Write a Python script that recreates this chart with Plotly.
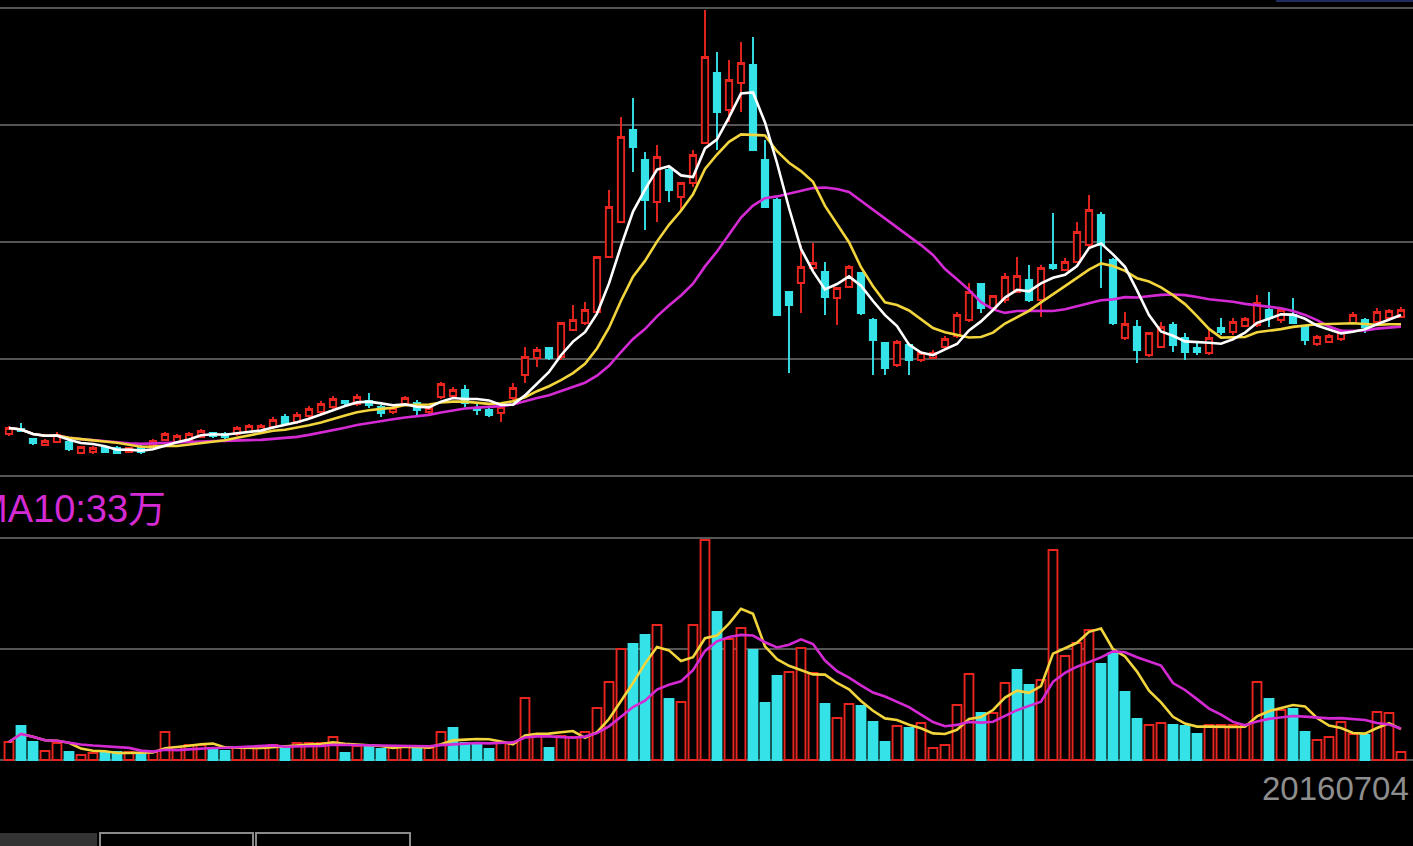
import plotly.graph_objects as go
import pandas as pd

# ---------------- data ----------------
opens = [5.66, 5.71, 5.61, 5.55, 5.58, 5.58, 5.47, 5.48, 5.52, 5.52,
         5.48, 5.53, 5.55, 5.60, 5.58, 5.60, 5.63, 5.67, 5.66, 5.66,
         5.68, 5.69, 5.73, 5.83, 5.78, 5.84, 5.88, 5.93, 5.99, 5.96,
         5.99, 5.93, 5.88, 5.96, 5.97, 5.88, 6.03, 6.04, 6.10, 5.92,
         5.90, 5.87, 6.02, 6.25, 6.42, 6.52, 6.43, 6.70, 6.77, 6.88,
         7.43, 7.78, 8.70, 8.40, 7.98, 8.30, 8.03, 8.17, 8.57, 9.27,
         8.90, 9.17, 9.35, 8.40, 8.00, 7.08, 7.17, 7.32, 7.28, 7.02,
         7.13, 7.27, 6.80, 6.57, 6.35, 6.55, 6.40, 6.42, 6.53, 6.64,
         6.80, 7.16, 6.92, 7.00, 7.08, 7.20, 7.00, 7.35, 7.30, 7.38,
         7.55, 7.85, 7.40, 6.62, 6.73, 6.45, 6.53, 6.75, 6.62, 6.52,
         6.47, 6.72, 6.68, 6.74, 6.75, 6.90, 6.80, 6.85, 6.73, 6.56,
         6.58, 6.61, 6.77, 6.80, 6.78, 6.82, 6.83]
highs = [5.74, 5.77, 5.62, 5.61, 5.68, 5.59, 5.54, 5.54, 5.53, 5.54,
         5.53, 5.55, 5.61, 5.68, 5.66, 5.68, 5.71, 5.68, 5.68, 5.74,
         5.76, 5.76, 5.83, 5.86, 5.88, 5.94, 5.99, 6.04, 6.00, 6.06,
         6.07, 5.95, 5.94, 6.04, 6.00, 5.94, 6.18, 6.13, 6.15, 5.97,
         5.92, 5.97, 6.17, 6.53, 6.53, 6.53, 6.78, 6.95, 6.98, 7.44,
         8.10, 8.83, 9.02, 8.48, 8.55, 8.33, 8.18, 8.50, 9.90, 9.48,
         9.40, 9.58, 9.63, 8.60, 8.02, 7.09, 7.55, 7.57, 7.38, 7.13,
         7.35, 7.28, 6.82, 6.58, 6.60, 6.57, 6.49, 6.50, 6.64, 6.88,
         7.17, 7.17, 7.05, 7.27, 7.43, 7.35, 7.35, 7.87, 7.42, 7.78,
         8.05, 7.88, 7.42, 6.88, 6.80, 6.68, 6.78, 6.78, 6.67, 6.57,
         6.70, 6.82, 6.82, 6.83, 7.05, 7.08, 6.92, 7.02, 6.75, 6.65,
         6.66, 6.71, 6.88, 6.82, 6.92, 6.91, 6.93]
lows = [5.64, 5.68, 5.55, 5.54, 5.57, 5.49, 5.46, 5.46, 5.47, 5.46,
        5.47, 5.46, 5.54, 5.59, 5.57, 5.59, 5.62, 5.62, 5.61, 5.64,
        5.67, 5.67, 5.71, 5.74, 5.76, 5.82, 5.86, 5.91, 5.94, 5.94,
        5.92, 5.83, 5.86, 5.94, 5.85, 5.86, 6.01, 6.02, 5.93, 5.85,
        5.83, 5.78, 6.00, 6.17, 6.33, 6.40, 6.40, 6.69, 6.75, 6.87,
        7.42, 7.77, 8.28, 7.70, 7.78, 7.98, 7.90, 8.13, 8.56, 8.50,
        8.78, 8.88, 8.49, 7.93, 6.85, 6.27, 6.87, 7.30, 6.85, 6.75,
        7.12, 6.85, 6.25, 6.25, 6.33, 6.25, 6.38, 6.41, 6.51, 6.62,
        6.78, 6.87, 6.90, 6.97, 7.07, 6.98, 6.83, 7.30, 7.29, 7.37,
        7.53, 7.12, 6.75, 6.60, 6.37, 6.43, 6.52, 6.48, 6.40, 6.45,
        6.45, 6.65, 6.65, 6.73, 6.73, 6.73, 6.77, 6.76, 6.55, 6.54,
        6.57, 6.59, 6.76, 6.67, 6.77, 6.81, 6.82]
closes = [5.72, 5.69, 5.57, 5.59, 5.65, 5.51, 5.53, 5.52, 5.48, 5.47,
          5.52, 5.48, 5.59, 5.66, 5.64, 5.66, 5.69, 5.64, 5.63, 5.72,
          5.74, 5.74, 5.80, 5.76, 5.85, 5.91, 5.96, 6.01, 5.97, 6.03,
          5.95, 5.87, 5.92, 6.02, 5.90, 5.92, 6.16, 6.10, 5.97, 5.90,
          5.85, 5.93, 6.12, 6.43, 6.50, 6.42, 6.77, 6.80, 6.90, 7.43,
          7.93, 8.63, 8.53, 8.00, 8.43, 8.10, 8.17, 8.45, 9.43, 8.88,
          9.20, 9.37, 8.50, 7.93, 6.85, 6.95, 7.33, 7.37, 7.03, 7.12,
          7.33, 6.87, 6.60, 6.32, 6.58, 6.40, 6.47, 6.47, 6.61, 6.85,
          7.08, 6.92, 7.04, 7.23, 7.24, 7.00, 7.32, 7.32, 7.38, 7.68,
          7.90, 7.55, 6.77, 6.76, 6.50, 6.67, 6.73, 6.55, 6.48, 6.48,
          6.62, 6.68, 6.78, 6.81, 6.97, 6.82, 6.90, 6.77, 6.60, 6.63,
          6.64, 6.69, 6.85, 6.73, 6.88, 6.89, 6.90]
# volume in 万 (10k shares)
volumes = [18, 34, 18, 9, 17, 8, 5, 7, 7, 8,
           8, 7, 8, 28, 13, 15, 15, 11, 9, 13,
           13, 14, 15, 14, 17, 17, 17, 23, 7, 14,
           15, 11, 13, 13, 13, 12, 28, 32, 17, 16,
           11, 17, 17, 62, 24, 12, 24, 23, 28, 52,
           78, 111, 116, 125, 135, 61, 58, 135, 220, 148,
           121, 132, 110, 57, 84, 88, 112, 87, 56, 42,
           56, 54, 38, 18, 34, 32, 37, 12, 15, 55,
           86, 47, 47, 77, 90, 75, 80, 210, 104, 117,
           130, 96, 107, 68, 41, 35, 37, 35, 34, 26,
           35, 35, 35, 35, 78, 61, 50, 51, 28, 20,
           23, 38, 26, 25, 48, 47, 8]
# 1 = up day (red), 0 = down day (cyan), as coloured on the volume bars
vol_up = [1, 0, 0, 1, 1, 0, 1, 1, 0, 0,
          1, 0, 1, 1, 1, 1, 1, 0, 0, 1,
          1, 1, 1, 0, 1, 1, 1, 1, 0, 1,
          0, 0, 1, 1, 0, 1, 1, 0, 0, 0,
          0, 1, 1, 1, 1, 0, 1, 1, 1, 1,
          1, 1, 0, 0, 1, 0, 1, 1, 1, 0,
          1, 1, 0, 0, 0, 1, 1, 1, 0, 1,
          1, 0, 0, 0, 1, 0, 1, 1, 1, 1,
          1, 0, 1, 1, 0, 0, 1, 1, 1, 1,
          1, 0, 0, 0, 0, 1, 1, 0, 0, 0,
          1, 1, 1, 1, 1, 0, 1, 0, 0, 1,
          1, 1, 1, 0, 1, 1, 1]
price_grid = [5.24, 6.41, 7.58, 8.75, 9.92]
vol_grid = [0, 111, 222]
vol_label = "MA10:33万"
date_label = "20160704"

# ---------------- styling ----------------
RED = "#e8251e"
CYAN = "#35e2e8"
WHITE = "#ffffff"
YELLOW = "#f2d53c"
MAGENTA = "#d42ad4"
GRID = "#555555"
W, H = 1413, 846

x = list(range(len(closes)))
cs = pd.Series(closes)
ma5 = cs.rolling(5, min_periods=1).mean()
ma10 = cs.rolling(10, min_periods=1).mean()
ma20 = cs.rolling(20, min_periods=1).mean()
vs = pd.Series(volumes)
vma5 = vs.rolling(5, min_periods=1).mean()
vma10 = vs.rolling(10, min_periods=1).mean()

fig = go.Figure()
fig.add_trace(go.Candlestick(
    x=x, open=opens, high=highs, low=lows, close=closes,
    increasing=dict(line=dict(color=RED, width=1.9), fillcolor="#000000"),
    decreasing=dict(line=dict(color=CYAN, width=1.9), fillcolor=CYAN),
    whiskerwidth=0, xaxis="x", yaxis="y", hoverinfo="skip"))
for ma, col in [(ma20, MAGENTA), (ma10, YELLOW), (ma5, WHITE)]:
    fig.add_trace(go.Scatter(x=x, y=ma, mode="lines", line=dict(color=col, width=2.6),
                             xaxis="x", yaxis="y", hoverinfo="skip"))

fig.add_trace(go.Bar(
    x=x, y=volumes, width=0.74,
    marker=dict(color=["#000000" if u else CYAN for u in vol_up],
                line=dict(color=[RED if u else CYAN for u in vol_up], width=1.9)),
    xaxis="x2", yaxis="y2", hoverinfo="skip"))
for ma, col in [(vma5, YELLOW), (vma10, MAGENTA)]:
    fig.add_trace(go.Scatter(x=x, y=ma, mode="lines", line=dict(color=col, width=2.6),
                             xaxis="x2", yaxis="y2", hoverinfo="skip"))

xr = [-0.75, 117.0]
# price axis: 100 px per unit; a small pad so the edge grid lines are drawn
p_lo, p_hi = price_grid[0] - 0.02, price_grid[-1] + 0.02
v_lo, v_hi = vol_grid[0] - 2, vol_grid[-1] + 2
fig.update_layout(
    width=W, height=H, margin=dict(l=0, r=0, t=0, b=0),
    paper_bgcolor="#000000", plot_bgcolor="#000000", showlegend=False,
    boxgap=0.25,
    xaxis=dict(domain=[0, 1], range=xr, visible=False, rangeslider=dict(visible=False),
               anchor="y"),
    xaxis2=dict(domain=[0, 1], range=xr, visible=False, anchor="y2"),
    yaxis=dict(domain=[1 - 478 / H, 1 - 6 / H], range=[p_lo, p_hi],
               tickvals=price_grid, showticklabels=False, showgrid=True,
               gridcolor=GRID, gridwidth=2, zeroline=False, showline=False),
    yaxis2=dict(domain=[1 - 762 / H, 1 - 536 / H], range=[v_lo, v_hi],
                tickvals=vol_grid, showticklabels=False, showgrid=True,
                gridcolor=GRID, gridwidth=2, zeroline=False, showline=False),
    annotations=[
        dict(text=vol_label, xref="paper", yref="paper", x=-26 / W, y=1 - 509 / H,
             xanchor="left", yanchor="middle", showarrow=False,
             font=dict(size=38, color=MAGENTA, family="Liberation Sans, Noto Sans CJK SC, sans-serif")),
        dict(text=date_label, xref="paper", yref="paper", x=1 - 2 / W, y=1 - 788 / H,
             xanchor="right", yanchor="middle", showarrow=False,
             font=dict(size=33, color="#8e8e8e", family="Liberation Sans, sans-serif")),
    ],
    shapes=[
        dict(type="rect", xref="paper", yref="paper", x0=0, x1=97 / W, y0=-0.01, y1=(H - 833) / H,
             fillcolor="#333333", line=dict(width=0)),
        dict(type="rect", xref="paper", yref="paper", x0=100 / W, x1=253 / W, y0=-0.01, y1=(H - 833) / H,
             fillcolor="#000000", line=dict(color="#8a8a8a", width=2)),
        dict(type="rect", xref="paper", yref="paper", x0=256 / W, x1=410 / W, y0=-0.01, y1=(H - 833) / H,
             fillcolor="#000000", line=dict(color="#8a8a8a", width=2)),
        dict(type="rect", xref="paper", yref="paper", x0=1276 / W, x1=1, y0=1 - 2 / H, y1=1.01,
             fillcolor="#1e2d5e", line=dict(width=0)),
    ],
)

fig.write_html("out.html", config={"displayModeBar": False},
               post_script="document.body.style.margin='0';document.body.style.background='#000';")
